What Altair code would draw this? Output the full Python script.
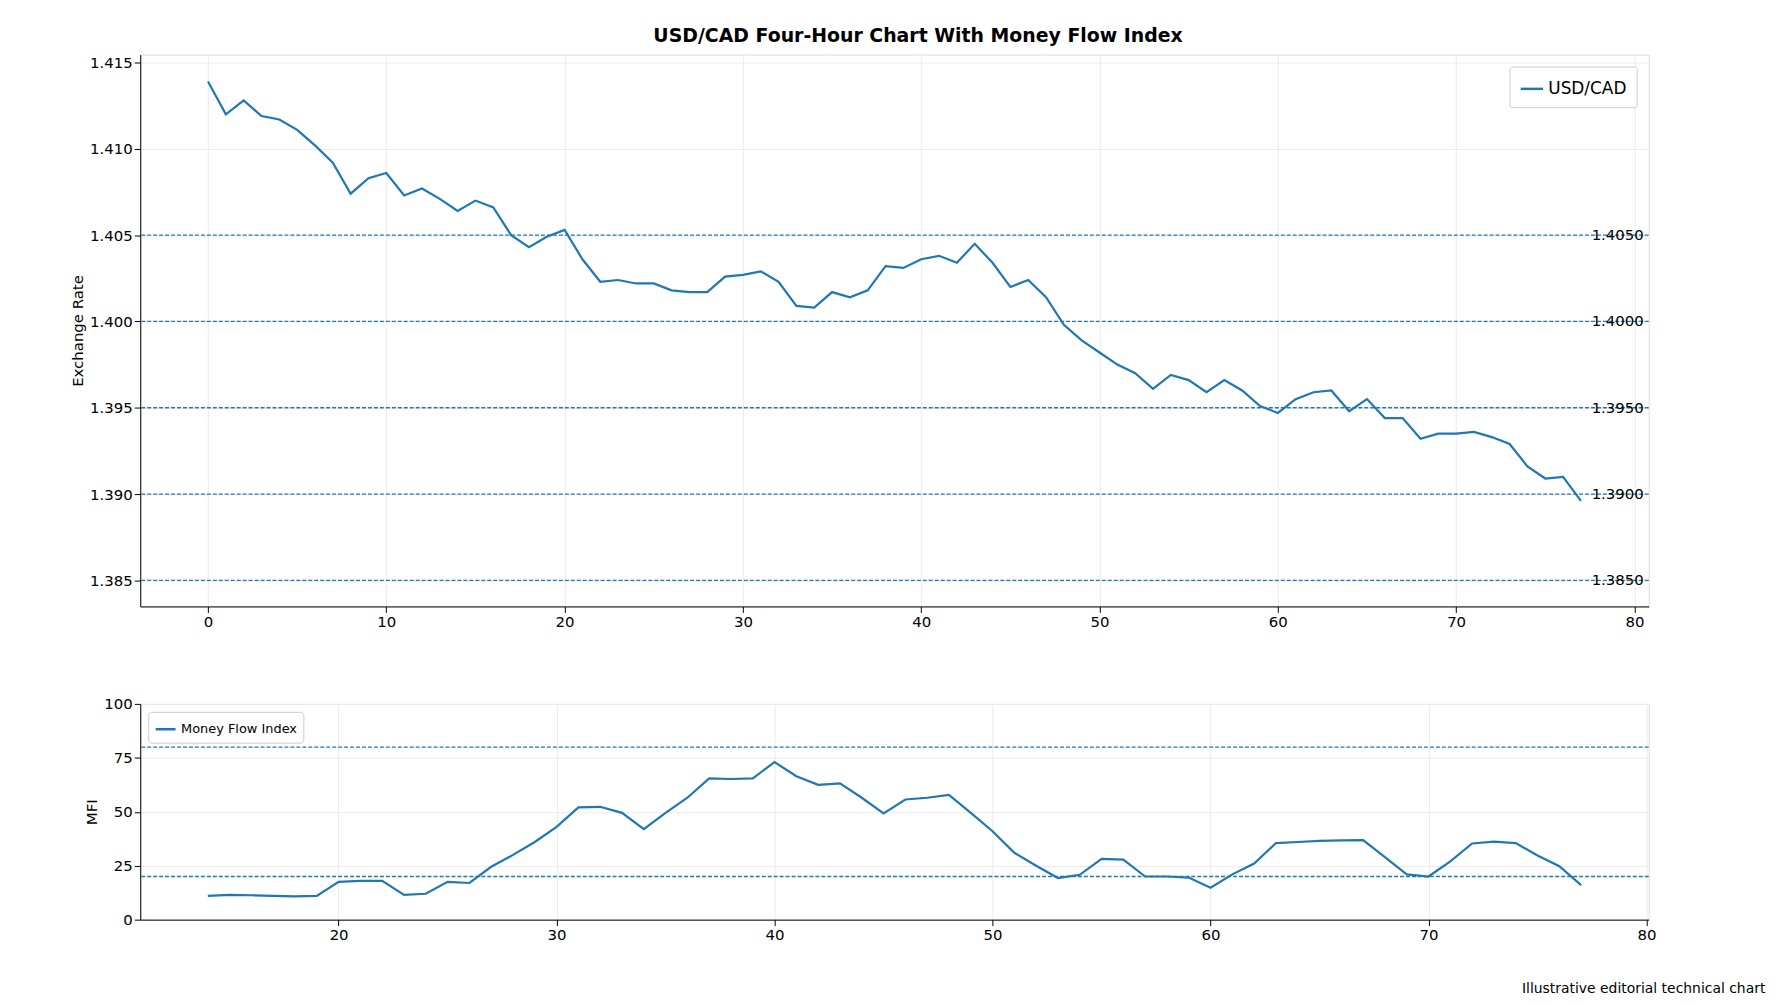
import altair as alt
import pandas as pd

price_x = list(range(78))
price = [1.4139,1.4120,1.4128,1.4119,1.4117,1.4111,1.4102,1.4092,1.4074,1.4083,1.4086,1.4073,1.4077,1.4071,1.4064,1.4070,1.4066,1.4050,1.4043,1.4049,
         1.4053,1.4036,1.4023,1.4024,1.4022,1.4022,1.4018,1.4017,1.4017,1.4026,1.4027,1.4029,1.4023,1.4009,1.4008,1.4017,1.4014,1.4018,1.4032,1.4031,
         1.4036,1.4038,1.4034,1.4045,1.4034,1.4020,1.4024,1.4014,1.3998,1.3989,1.3982,1.3975,1.3970,1.3961,1.3969,1.3966,1.3959,1.3966,1.3960,1.3951,
         1.3947,1.3955,1.3959,1.3960,1.3948,1.3955,1.3944,1.3944,1.3932,1.3935,1.3935,1.3936,1.3933,1.3929,1.3916,1.3909,1.3910,1.3896]
mfi_x = list(range(14, 78))
mfi = [11,11.5,11.3,11,10.8,11,17.5,18,18,11.5,12,17.5,17,24.5,30,36,43,52,52.3,49.5,
       42,49.5,56.5,65.5,65.2,65.5,73,66.5,62.5,63.2,56.5,49.2,55.7,56.5,57.8,49.5,41,31,25,19.3,
       20.8,28.2,27.8,20,20,19.5,14.8,21,26,35.5,36,36.5,36.7,36.9,29,21,20,27,35.3,36.2,
       35.5,29.7,24.8,16]
levels = [1.405, 1.400, 1.395, 1.390, 1.385]
level_labels = ["1.4050", "1.4000", "1.3950", "1.3900", "1.3850"]
mfi_levels = [80, 20]

BLUE = "#1f77b4"
W = 1517
FONT = "DejaVu Sans"

pdf = pd.DataFrame({"x": price_x, "y": price, "s": "USD/CAD"})
ldf = pd.DataFrame({"y": levels, "label": level_labels, "x": 77.6})
mdf = pd.DataFrame({"x": mfi_x, "y": mfi, "m": "Money Flow Index"})
mldf = pd.DataFrame({"y": mfi_levels})

axis_common = dict(grid=True, gridColor="#ebebeb", tickColor="black", domainColor="black",
                   labelFontSize=15, titleFontSize=15, labelColor="black", titleColor="black",
                   titleFontWeight="normal", tickSize=6, labelFont=FONT, titleFont=FONT)

xs_top = alt.Scale(domain=[-3.8, 80.8], nice=False, zero=False)
ys_top = alt.Scale(domain=[1.38349, 1.41546], nice=False, zero=False)

top_line = alt.Chart(pdf).mark_line(strokeWidth=2.2).encode(
    x=alt.X("x:Q", scale=xs_top, axis=alt.Axis(values=list(range(0, 81, 10)), title=None, **axis_common)),
    y=alt.Y("y:Q", scale=ys_top, axis=alt.Axis(values=[1.385,1.39,1.395,1.4,1.405,1.41,1.415], format=".3f",
                                               title="Exchange Rate", **axis_common)),
    color=alt.Color("s:N", scale=alt.Scale(range=[BLUE]),
                    legend=alt.Legend(title=None, orient="top-right", labelFontSize=17, labelFont=FONT,
                                      symbolType="stroke", symbolStrokeWidth=2.5, symbolSize=500,
                                      strokeColor="#cccccc", fillColor="white", padding=10, cornerRadius=3,
                                      offset=12)),
)
top_rules = alt.Chart(ldf).mark_rule(color=BLUE, strokeDash=[4, 2], strokeWidth=1.3).encode(y=alt.Y("y:Q", scale=ys_top))
top_text = alt.Chart(ldf).mark_text(align="left", baseline="middle", fontSize=15, font=FONT, color="black").encode(
    x=alt.X("x:Q", scale=xs_top), y=alt.Y("y:Q", scale=ys_top), text="label:N")
top = alt.layer(top_rules, top_line, top_text).properties(width=W, height=555)

xs_bot = alt.Scale(domain=[10.9, 80.1], nice=False, zero=False)
ys_bot = alt.Scale(domain=[0, 100], nice=False)
bot_line = alt.Chart(mdf).mark_line(strokeWidth=2.2).encode(
    x=alt.X("x:Q", scale=xs_bot, axis=alt.Axis(values=list(range(20, 81, 10)), title=None, **axis_common)),
    y=alt.Y("y:Q", scale=ys_bot, axis=alt.Axis(values=[0, 25, 50, 75, 100], title="MFI", **axis_common)),
    stroke=alt.Stroke("m:N", scale=alt.Scale(range=[BLUE]),
                    legend=alt.Legend(title=None, orient="top-left", labelFontSize=13, labelFont=FONT,
                                      symbolType="stroke", symbolStrokeWidth=2.5, symbolSize=400,
                                      strokeColor="#cccccc", fillColor="white", padding=6, cornerRadius=3,
                                      offset=8)),
)
bot_rules = alt.Chart(mldf).mark_rule(color=BLUE, strokeDash=[4, 2], strokeWidth=1.3).encode(y=alt.Y("y:Q", scale=ys_bot))
bot = alt.layer(bot_rules, bot_line).properties(
    width=W, height=217,
    title=alt.TitleParams("Illustrative editorial technical chart", orient="bottom", anchor="end",
                          fontSize=14, font=FONT, fontWeight="normal", color="black", dx=110, offset=40))

chart = alt.vconcat(top, bot, spacing=66).resolve_scale(color="independent", stroke="independent").resolve_legend(
    color="independent", stroke="independent").properties(
    padding={"left": 62, "top": 16, "right": 5, "bottom": 5},
    title=alt.TitleParams("USD/CAD Four-Hour Chart With Money Flow Index", fontSize=19, font=FONT,
                          fontWeight="bold", anchor="middle", color="black", offset=8)
).configure_view(stroke="black", strokeWidth=1.5).configure(background="white")

chart.save("out.html", embed_options={"renderer": "svg", "actions": False})
